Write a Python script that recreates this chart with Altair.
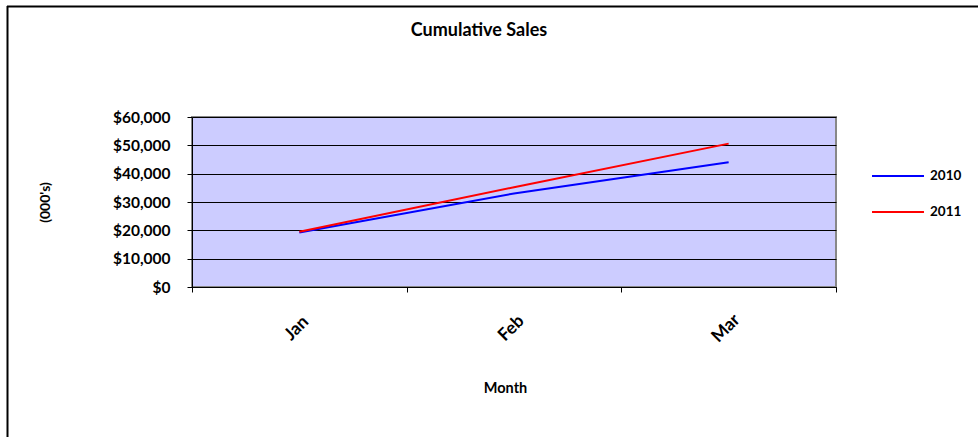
import altair as alt
import pandas as pd

months = ["Jan", "Feb", "Mar"]
sales_2010 = [19200, 33000, 44000]
sales_2011 = [19500, 35200, 50600]
series = ["2010", "2011"]
colors = ["#0000FF", "#FF0000"]
y_ticks = [0, 10000, 20000, 30000, 40000, 50000, 60000]

rows = []
for s, vals in zip(series, [sales_2010, sales_2011]):
    for m, v in zip(months, vals):
        rows.append({"Month": m, "Year": s, "Sales": v})
df = pd.DataFrame(rows)

FONT = "Lato"
W, H = 644, 170
PL, PT = 192, 117

lines = alt.Chart(df).mark_line(strokeWidth=2).encode(
    x=alt.X(
        "Month:O",
        sort=months,
        scale=alt.Scale(type="band", paddingInner=0, paddingOuter=0),
        axis=alt.Axis(
            title="Month",
            labelAngle=-45,
            labelAlign="center",
            labelBaseline="middle",
            labelPadding=36,
            labelOffset=-3,
            tickBand="extent",
            tickSize=5,
            tickColor="#000000",
            domainColor="#000000",
            labelFont=FONT,
            labelFontSize=17.5,
            labelFontWeight="bold",
            labelColor="#000000",
            titleFont=FONT,
            titleFontSize=14.5,
            titleFontWeight="bold",
            titleColor="#000000",
            titleX=313,
            titleY=101,
            titleAlign="center",
            titleBaseline="middle",
            grid=False,
        ),
    ),
    y=alt.Y(
        "Sales:Q",
        scale=alt.Scale(domain=[0, 60000], nice=False),
        axis=alt.Axis(
            title="(000's)",
            values=y_ticks,
            format="$,.0f",
            tickSize=5,
            tickColor="#000000",
            domainColor="#000000",
            labelPadding=17,
            labelFont=FONT,
            labelFontSize=15.5,
            labelFontWeight="bold",
            labelColor="#000000",
            titleFont=FONT,
            titleFontSize=14,
            titleFontWeight="bold",
            titleColor="#000000",
            titleX=-147,
            titleY=85,
            titleAngle=-90,
            titleAlign="center",
            titleBaseline="middle",
            grid=True,
            gridColor="#000000",
            gridWidth=1,
        ),
    ),
    color=alt.Color(
        "Year:N",
        scale=alt.Scale(domain=series, range=colors),
        legend=alt.Legend(
            title=None,
            orient="none",
            legendX=679,
            legendY=32,
            symbolType="stroke",
            symbolSize=2700,
            symbolStrokeWidth=2,
            labelFont=FONT,
            labelFontSize=13.5,
            labelFontWeight="bold",
            labelColor="#000000",
            labelOffset=5,
            rowPadding=2,
            padding=0,
        ),
    ),
)

title = alt.Chart().mark_text(
    text="Cumulative Sales", font=FONT, fontSize=18, fontWeight="bold",
    color="#000000", align="center", baseline="middle"
).encode(x=alt.value(479 - PL), y=alt.value(31 - PT))

frame_top = alt.Chart().mark_rule(color="#000000", strokeWidth=2).encode(
    x=alt.value(7 - PL), x2=alt.value(990 - PL), y=alt.value(6.5 - PT)
)
frame_left = alt.Chart().mark_rule(color="#000000", strokeWidth=2).encode(
    x=alt.value(7.5 - PL), y=alt.value(6 - PT), y2=alt.value(450 - PT)
)

chart = alt.layer(lines, title, frame_top, frame_left).properties(
    width=W,
    height=H,
    padding={"left": PL, "top": PT, "right": 978 - PL - W, "bottom": 437 - PT - H},
    autosize=alt.AutoSizeParams(type="none"),
    background="#FFFFFF",
).configure_view(
    fill="#CCCCFF", stroke="#888888", strokeWidth=2
)

chart.save("out.html", embed_options={"renderer": "svg", "actions": False})
